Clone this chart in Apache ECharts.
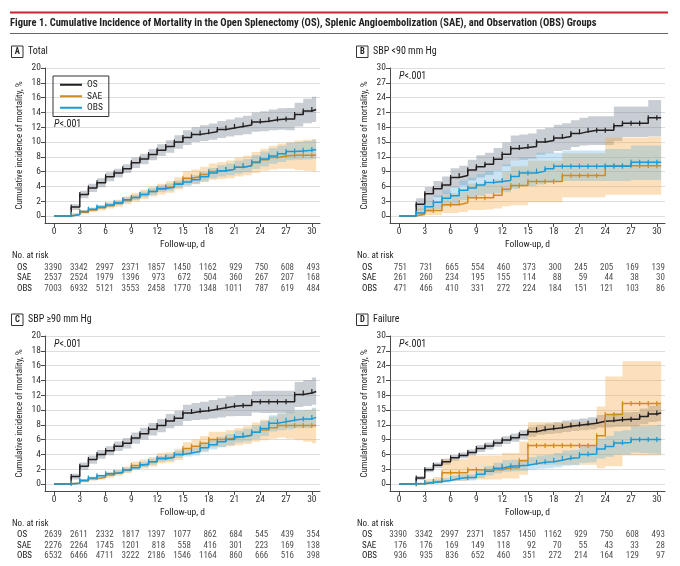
<!DOCTYPE html>
<html><head><meta charset="utf-8">
<script src="https://cdn.jsdelivr.net/npm/echarts@6/dist/echarts.min.js"></script>
<style>html,body{margin:0;padding:0;background:#fff}#c{width:680px;height:566px}</style>
</head><body><div id="c"></div>
<script>
const FONT = "'Roboto Condensed', 'Open Sans Condensed', sans-serif";

const days = [0,1,2,3,4,5,6,7,8,9,10,11,12,13,14,15,16,17,18,19,20,21,22,23,24,25,26,27,28,29,30];
const riskDays = [0,3,6,9,12,15,18,21,24,27,30];
const yTicks20 = [0,2,4,6,8,10,12,14,16,18,20];
const yTicks30 = [0,3,6,9,12,15,18,21,24,27,30];
const groups = ['OS','SAE','OBS'];

// Panel A (Total) — also OS in panel D
const osTotal   = [0,0,1.2,2.9,3.8,4.5,5.3,5.8,6.4,7.2,7.7,8.3,8.9,9.4,10.0,10.6,11.0,11.2,11.4,11.7,11.9,12.1,12.3,12.7,12.8,13.0,13.1,13.1,13.7,14.2,14.4];
const osTotalLo = [0,0,0.8,2.4,3.25,3.9,4.7,5.2,5.8,6.5,7.0,7.55,8.1,8.55,9.1,9.6,10.0,10.15,10.3,10.55,10.75,10.9,11.05,11.4,11.45,11.6,11.65,11.6,12.1,12.55,12.7];
const osTotalHi = [0,0,1.6,3.4,4.35,5.1,5.9,6.4,7.0,7.9,8.4,9.05,9.7,10.25,10.9,11.6,12.0,12.25,12.5,12.85,13.05,13.3,13.55,14.0,14.15,14.4,14.55,14.6,15.3,15.85,16.1];
const saeA   = [0,0,0.2,0.5,0.8,1.1,1.4,1.7,2.1,2.5,2.9,3.3,3.6,3.9,4.4,5.1,5.3,5.6,6.0,6.1,6.3,6.6,6.8,7.2,7.6,7.9,8.1,8.2,8.2,8.2,8.2];
const saeALo = [0,0,0.05,0.25,0.5,0.75,1.0,1.25,1.6,1.95,2.3,2.65,2.9,3.15,3.6,4.2,4.35,4.6,4.9,5.0,5.1,5.35,5.5,5.8,6.1,6.3,6.4,6.4,6.2,6.1,6.0];
const saeAHi = [0,0,0.4,0.8,1.15,1.5,1.85,2.2,2.65,3.1,3.55,4.0,4.35,4.7,5.25,6.05,6.3,6.65,7.1,7.25,7.5,7.9,8.15,8.65,9.1,9.5,9.8,10.0,10.2,10.3,10.4];
const obsA   = [0,0,0.2,0.6,0.9,1.2,1.5,1.8,2.2,2.5,2.9,3.3,3.7,3.9,4.3,4.6,4.9,5.3,5.8,6.1,6.3,6.6,6.8,7.3,7.7,8.1,8.4,8.7,8.8,8.9,9.0];
const obsALo = [0,0,0.1,0.45,0.7,0.95,1.25,1.5,1.85,2.15,2.5,2.85,3.25,3.4,3.8,4.05,4.3,4.65,5.1,5.35,5.5,5.75,5.9,6.35,6.7,7.05,7.3,7.55,7.6,7.65,7.7];
const obsAHi = [0,0,0.3,0.75,1.1,1.45,1.75,2.1,2.55,2.85,3.3,3.75,4.15,4.4,4.8,5.15,5.5,5.95,6.5,6.85,7.1,7.45,7.7,8.25,8.7,9.15,9.5,9.85,10.0,10.15,10.3];

// Panel B (SBP <90)
const osB   = [0,0,2.4,4.5,5.5,6.3,7.8,8.2,9.3,10.0,10.5,11.5,12.5,13.7,13.9,14.1,15.0,15.3,15.8,16.1,16.7,17.1,17.4,17.4,17.4,18.3,18.8,18.8,18.8,19.9,19.9];
const osBLo = [0,0,1.2,2.9,3.8,4.5,5.8,6.2,7.2,7.8,8.3,9.2,10.1,11.2,11.4,11.6,12.4,12.7,13.2,13.4,14.0,14.3,14.4,14.4,14.4,15.2,16.0,16.0,16.0,16.1,16.1];
const osBHi = [0,0,3.6,5.9,7.1,8.0,9.7,10.2,11.4,12.3,12.8,13.8,14.9,16.3,16.5,16.7,17.6,17.9,18.5,18.8,19.4,19.9,20.2,20.2,20.2,22.2,22.2,22.2,22.2,23.5,23.5];
const saeB   = [0,0,0.4,1.1,1.1,2.3,2.3,2.7,3.7,3.7,3.7,4.2,5.4,6.2,6.2,7.0,7.0,7.0,7.0,8.2,8.2,8.2,8.2,8.2,10.2,10.2,10.2,10.2,10.2,10.2,10.2];
const saeBLo = [0,0,0,0.2,0.2,0.6,0.6,0.8,1.2,1.2,1.3,1.5,2.0,2.2,2.2,2.8,2.8,2.8,2.8,3.8,3.8,3.8,3.8,3.8,4.3,4.3,4.3,4.3,4.3,4.3,4.3];
const saeBHi = [0,0,1.5,2.9,2.9,4.6,4.6,5.2,6.6,6.6,6.6,7.4,9.0,10.1,10.1,11.2,11.2,11.2,11.2,12.7,12.7,12.7,12.7,12.7,15.9,15.9,15.9,15.9,15.9,16.0,16.0];
const obsB   = [0,0,0.6,1.9,2.8,3.6,4.1,5.2,5.7,6.3,6.8,7.0,7.2,8.0,8.7,8.7,9.1,9.6,10.1,10.1,10.1,10.1,10.1,10.1,10.1,10.1,10.1,10.9,10.9,10.9,10.9];
const obsBLo = [0,0,0.0,0.8,1.4,2.0,2.3,3.2,3.6,4.1,4.5,4.6,4.8,5.5,6.1,6.1,6.4,6.8,7.1,7.1,7.1,7.1,7.1,7.1,7.1,7.1,7.1,7.3,7.3,7.3,7.3];
const obsBHi = [0,0,1.3,3.0,4.2,5.2,5.9,7.2,7.8,8.5,9.1,9.4,10.5,11.2,11.8,11.8,12.8,12.8,12.8,13.3,13.3,13.3,13.3,13.3,13.6,13.6,13.6,14.3,14.3,14.3,14.3];

// Panel C (SBP >=90)
const osC   = [0,0,1.0,2.4,3.3,4.0,4.5,5.1,5.5,6.2,6.8,7.4,7.9,8.5,8.9,9.6,9.8,9.9,10.1,10.3,10.5,10.6,10.6,11.1,11.1,11.1,11.1,11.1,12.1,12.3,12.5];
const osCLo = [0,0,0.6,1.9,2.75,3.4,3.9,4.45,4.8,5.45,6.0,6.55,7.0,7.55,7.9,8.5,8.65,8.7,8.85,9.0,9.15,9.2,9.2,9.65,9.6,9.6,9.6,9.6,10.4,10.55,10.7];
const osCHi = [0,0,1.4,2.9,3.85,4.6,5.1,5.75,6.2,6.95,7.6,8.25,8.8,9.45,9.9,10.7,10.95,11.1,11.35,11.6,11.85,12.0,12.0,12.55,12.6,12.6,12.6,12.6,13.8,14.05,14.4];
const saeC   = [0,0,0.1,0.4,0.7,0.9,1.2,1.5,1.9,2.5,2.7,3.0,3.5,3.6,4.0,4.8,5.1,5.5,6.0,6.0,6.2,6.4,6.6,7.0,7.3,7.6,7.9,7.9,7.9,7.9,7.9];
const saeCLo = [0,0,0,0.2,0.45,0.6,0.85,1.1,1.45,1.95,2.1,2.35,2.8,2.9,3.25,3.95,4.2,4.5,4.95,4.95,5.1,5.25,5.4,5.7,5.9,6.1,6.3,6.1,5.9,5.7,5.5];
const saeCHi = [0,0,0.25,0.6,0.95,1.2,1.55,1.9,2.35,3.05,3.3,3.65,4.2,4.3,4.75,5.65,6.0,6.5,7.05,7.05,7.3,7.55,7.8,8.3,8.7,9.1,9.5,9.7,9.9,10.0,10.2];
const obsC   = [0,0,0.1,0.5,0.8,1.1,1.4,1.6,1.9,2.2,2.6,3.0,3.4,3.6,4.0,4.2,4.4,4.9,5.3,5.7,6.0,6.4,6.6,7.0,7.5,8.2,8.4,8.6,8.8,8.8,9.0];
const obsCLo = [0,0,0.05,0.35,0.6,0.9,1.15,1.35,1.6,1.9,2.25,2.6,3.0,3.15,3.5,3.7,3.85,4.3,4.65,5.0,5.25,5.6,5.75,6.1,6.5,7.1,7.25,7.4,7.55,7.55,7.7];
const obsCHi = [0,0,0.2,0.65,1.0,1.3,1.65,1.85,2.2,2.5,2.95,3.4,3.8,4.05,4.5,4.7,4.95,5.5,5.95,6.4,6.75,7.2,7.45,7.9,8.5,9.3,9.55,9.8,10.05,10.05,10.3];

// Panel D (Failure)
const saeD   = [0,0,0,0.3,0.5,2.3,2.3,2.3,2.9,2.9,2.9,2.9,3.3,3.3,4.7,7.8,7.8,7.8,7.8,7.8,7.8,7.8,7.8,9.8,14.1,14.1,16.3,16.3,16.3,16.3,16.3];
const saeDLo = [0,0,0,0,0,0.6,0.6,0.6,0.9,0.9,0.9,0.9,1.1,1.1,1.9,3.9,3.9,3.9,3.9,3.9,3.9,3.9,3.9,3.2,3.6,3.6,5.8,5.8,5.8,5.8,5.8];
const saeDHi = [0,0,0,1.0,1.4,5.0,5.0,5.0,5.8,5.8,5.8,5.8,6.3,6.3,8.6,12.5,12.5,12.5,12.5,12.5,12.5,12.5,12.5,15.7,21.8,21.8,24.9,24.9,24.9,24.9,24.9];
const obsD   = [0,0,0.1,0.3,0.5,0.7,1.1,1.3,1.3,2.0,2.6,3.2,3.6,3.7,3.8,4.1,4.4,4.5,4.8,5.2,5.3,6.0,6.1,7.1,7.6,8.3,8.4,9.0,9.0,9.0,9.0];
const obsDLo = [0,0,0,0.1,0.2,0.3,0.6,0.7,0.7,1.2,1.7,2.2,2.5,2.6,2.7,2.9,3.1,3.2,3.4,3.7,3.8,4.3,4.4,5.1,5.5,6.0,6.0,6.4,6.3,6.2,6.1];
const obsDHi = [0,0,0.3,0.6,0.9,1.2,1.7,2.0,2.0,2.9,3.6,4.3,4.8,4.9,5.0,5.4,5.8,5.9,6.3,6.8,6.9,7.8,7.9,9.2,9.8,10.7,10.9,11.6,11.7,11.8,12.0];

// Numbers at risk
const riskA_OS  = [3390,3342,2997,2371,1857,1450,1162,929,750,608,493];
const riskA_SAE = [2537,2524,1979,1396,973,672,504,360,267,207,168];
const riskA_OBS = [7003,6932,5121,3553,2458,1770,1348,1011,787,619,484];
const riskB_OS  = [751,731,665,554,460,373,300,245,205,169,139];
const riskB_SAE = [261,260,234,195,155,114,88,59,44,38,30];
const riskB_OBS = [471,466,410,331,272,224,184,151,121,103,86];
const riskC_OS  = [2639,2611,2332,1817,1397,1077,862,684,545,439,354];
const riskC_SAE = [2276,2264,1745,1201,818,558,416,301,223,169,138];
const riskC_OBS = [6532,6466,4711,3222,2186,1546,1164,860,666,516,398];
const riskD_OS  = [3390,3342,2997,2371,1857,1450,1162,929,750,608,493];
const riskD_SAE = [176,176,169,149,118,92,70,55,43,33,28];
const riskD_OBS = [936,935,836,652,460,351,272,214,164,129,97];

const lineColors = ['#231f20', '#d08a22', '#1b9ad6'];
const bandColors = ['rgba(110,125,140,0.38)', 'rgba(245,165,60,0.35)', 'rgba(90,175,225,0.33)'];

const panels = [
  {id:'A', label:'Total', left:45, top:68, tableTop:262, ymin:-0.946, ymax:20, ticks:yTicks20,
   curves:[[osTotal,osTotalLo,osTotalHi],[saeA,saeALo,saeAHi],[obsA,obsALo,obsAHi]], risk:[riskA_OS,riskA_SAE,riskA_OBS]},
  {id:'B', label:'SBP <90 mm Hg', left:390, top:68, tableTop:262, ymin:-1.419, ymax:30, ticks:yTicks30,
   curves:[[osB,osBLo,osBHi],[saeB,saeBLo,saeBHi],[obsB,obsBLo,obsBHi]], risk:[riskB_OS,riskB_SAE,riskB_OBS]},
  {id:'C', label:'SBP \u226590 mm Hg', left:45, top:336, tableTop:529.5, ymin:-0.946, ymax:20, ticks:yTicks20,
   curves:[[osC,osCLo,osCHi],[saeC,saeCLo,saeCHi],[obsC,obsCLo,obsCHi]], risk:[riskC_OS,riskC_SAE,riskC_OBS]},
  {id:'D', label:'Failure', left:390, top:336, tableTop:529.5, ymin:-1.419, ymax:30, ticks:yTicks30,
   curves:[[osTotal,osTotalLo,osTotalHi],[saeD,saeDLo,saeDHi],[obsD,obsDLo,obsDHi]], risk:[riskD_OS,riskD_SAE,riskD_OBS]}
];

const PW = 275, PH = 155, XMIN = -1.05, XMAX = 30.95, XEND = 30.5;
const FS_TICK = 9.5, FS_TABLE = 9, FS_NAME = 9.5;
const txt = {fontFamily: FONT, color: '#222'};
const axisColor = '#4a4a4a';

const grid = [], xAxis = [], yAxis = [], series = [], graphic = [];

function linePts(vals) {
  const out = days.map((d, i) => i < 2 ? {value: [d, vals[i]], symbol: 'none'} : [d, vals[i]]);
  out.push({value: [XEND, vals[vals.length - 1]], symbol: 'none'});
  return out;
}
function bandSeries(g, lo, hi, color) {
  return {
    type: 'custom', xAxisIndex: g, yAxisIndex: g, silent: true, z: 1, clip: true,
    data: days.map((d, i) => [d, lo[i], hi[i]]),
    renderItem: (params, api) => {
      if (params.dataIndex !== 0) return null;
      const n = days.length, pts = [];
      const nextX = i => (i < n - 1 ? days[i + 1] : XEND);
      for (let i = 0; i < n; i++) { pts.push(api.coord([days[i], hi[i]])); pts.push(api.coord([nextX(i), hi[i]])); }
      for (let i = n - 1; i >= 0; i--) { pts.push(api.coord([nextX(i), lo[i]])); pts.push(api.coord([days[i], lo[i]])); }
      return {type: 'polygon', shape: {points: pts}, style: {fill: color}};
    }
  };
}

panels.forEach((p, pi) => {
  const g = pi * 2, t = pi * 2 + 1;
  grid.push({left: p.left, top: p.top, width: PW, height: PH});
  grid.push({left: p.left, top: p.tableTop, width: PW, height: 32});
  xAxis.push({
    type: 'value', gridIndex: g, min: XMIN, max: XMAX,
    axisLine: {onZero: false, lineStyle: {color: axisColor, width: 1}},
    axisTick: {customValues: riskDays, length: 4, lineStyle: {color: axisColor}},
    axisLabel: {customValues: riskDays, fontSize: FS_TICK, margin: 4, ...txt, color: '#333'},
    splitLine: {show: false},
    name: 'Follow-up, d', nameLocation: 'middle', nameGap: 17,
    nameTextStyle: {fontSize: FS_NAME, ...txt}
  });
  xAxis.push({type: 'value', gridIndex: t, min: XMIN, max: XMAX, show: false});
  yAxis.push({
    type: 'value', gridIndex: g, min: p.ymin, max: p.ymax,
    axisLine: {show: true, onZero: false, lineStyle: {color: axisColor, width: 1}},
    axisTick: {show: true, customValues: p.ticks, length: 4, lineStyle: {color: axisColor}},
    axisLabel: {customValues: p.ticks, fontSize: FS_TICK, margin: 4, ...txt, color: '#333'},
    splitLine: {show: true, lineStyle: {color: '#dedede', width: 1}},
    name: 'Cumulative incidence of mortality, %', nameLocation: 'middle', nameGap: 21,
    nameTextStyle: {fontSize: 9, ...txt}
  });
  yAxis.push({
    type: 'category', gridIndex: t, data: groups, inverse: true,
    axisLine: {show: false}, axisTick: {show: false}, splitLine: {show: false},
    axisLabel: {interval: 0, align: 'left', margin: 28, fontSize: FS_TABLE, ...txt}
  });

  p.curves.forEach((c, gi) => series.push(bandSeries(g, c[1], c[2], bandColors[gi])));
  [1, 2, 0].forEach(gi => {
    const c = p.curves[gi];
    series.push({type: 'line', name: groups[gi], step: 'end', xAxisIndex: g, yAxisIndex: g,
      data: linePts(c[0]), symbol: 'rect', symbolSize: [1.2, 5], showSymbol: true, showAllSymbol: true,
      itemStyle: {color: lineColors[gi]}, lineStyle: {color: lineColors[gi], width: 1.5}, silent: true, z: 5 + gi});
  });
  p.risk.forEach((arr, gi) => {
    series.push({type: 'scatter', xAxisIndex: t, yAxisIndex: t, symbolSize: 0, silent: true,
      data: riskDays.map((d, k) => [d, gi, arr[k]]),
      label: {show: true, position: 'inside', align: 'right', offset: [8, 0], fontSize: FS_TABLE, ...txt,
        formatter: q => String(q.value[2])}});
  });

  const ly = p.top - 16.5;
  const bx = p.left - 34;
  graphic.push({type: 'rect', shape: {x: bx + 0.5, y: ly - 5.5, width: 11.5, height: 11.5}, style: {fill: '#fff', stroke: '#333', lineWidth: 1}});
  graphic.push({type: 'text', x: bx + 6.3, y: ly + 0.5, style: {text: p.id, fontSize: 8.5, fontWeight: 'bold', fontFamily: FONT, fill: '#222', align: 'center', verticalAlign: 'middle'}});
  graphic.push({type: 'text', x: bx + 17, y: ly, style: {text: p.label, fontSize: 10, fontFamily: FONT, fill: '#222', verticalAlign: 'middle'}});
  graphic.push({type: 'text', x: p.left + 9, y: (pi === 0 ? 124 : p.top + 8), style: {
    text: '{i|P}<.001', fontSize: 10, fontFamily: FONT, fill: '#222', verticalAlign: 'middle',
    rich: {i: {fontStyle: 'italic', fontSize: 10, fontFamily: FONT, fill: '#222'}}}});
  graphic.push({type: 'text', x: p.left - 33, y: p.tableTop - 6, style: {text: 'No. at risk', fontSize: FS_TABLE, fontFamily: FONT, fill: '#222', verticalAlign: 'middle'}});
});

graphic.push({type: 'line', shape: {x1: 10, y1: 12.5, x2: 668, y2: 12.5}, style: {stroke: '#c4262e', lineWidth: 2}});
graphic.push({type: 'text', x: 10, y: 23.5, style: {
  text: 'Figure 1. Cumulative Incidence of Mortality in the Open Splenectomy (OS), Splenic Angioembolization (SAE), and Observation (OBS) Groups',
  fontSize: 10.5, fontWeight: 'bold', fontFamily: FONT, fill: '#222', verticalAlign: 'middle'}});
graphic.push({type: 'line', shape: {x1: 10, y1: 33.5, x2: 668, y2: 33.5}, style: {stroke: '#666', lineWidth: 1}});

const chart = echarts.init(document.getElementById('c'), null, {renderer: 'canvas'});
chart.setOption({
  animation: false,
  backgroundColor: '#fff',
  grid, xAxis, yAxis, series, graphic,
  legend: {
    data: groups, orient: 'vertical', left: 53, top: 76, icon: 'rect', itemWidth: 22, itemHeight: 2,
    itemGap: 0, padding: [3, 6, 3, 7], borderColor: '#333', borderWidth: 1, selectedMode: false,
    textStyle: {fontSize: 9.5, fontFamily: FONT, color: '#222', lineHeight: 11.5}
  }
});
</script></body></html>
